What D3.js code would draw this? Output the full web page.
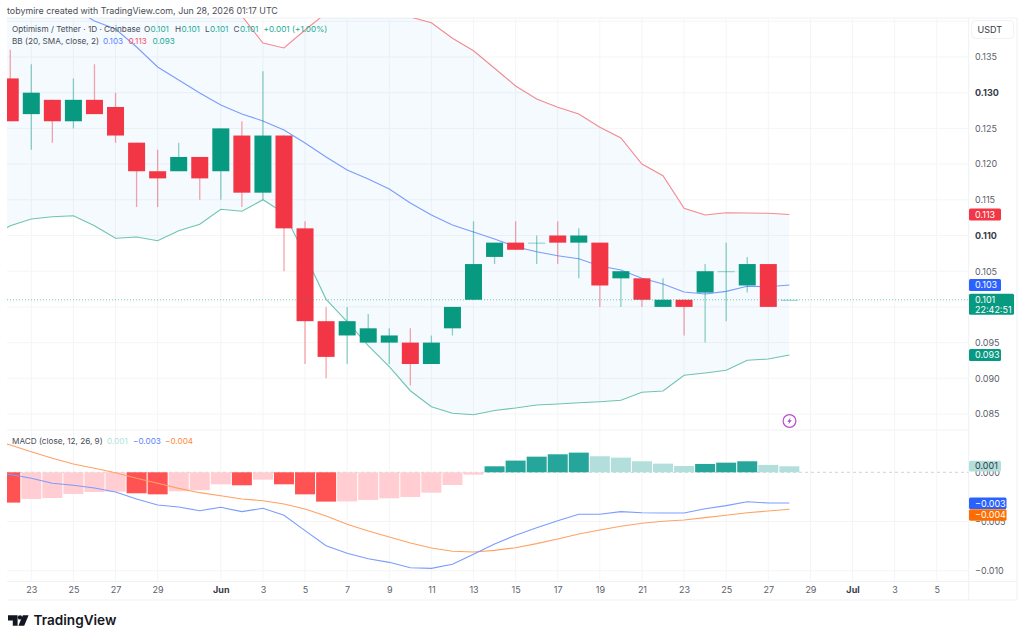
<!DOCTYPE html>
<html>
<head>
<meta charset="utf-8">
<title>Optimism / Tether 1D</title>
<script src="https://cdn.jsdelivr.net/npm/d3@7/dist/d3.min.js"></script>
<style>
  html, body { margin: 0; padding: 0; background: #fff; }
  svg { display: block; }
  text { font-family: Inter, "Liberation Sans", sans-serif; font-size: 9px; }
  text.legend { font-size: 8.2px; }
  text.credit { font-size: 8.9px; }
</style>
</head>
<body>
<svg id="chart" width="1024" height="641"></svg>
<script>
// Daily candles, first entry is May 21 2026
const opens  = [.133,.132,.127,.129,.126,.129,.128,.123,.119,.119,.121,.119,.124,.116,.124,.111,.098,.096,.095,.095,.095,.092,.097,.101,.107,.109,.109,.110,.109,.109,.104,.104,.100,.101,.102,.105,.103,.106,.101];
const highs  = [.137,.136,.134,.129,.132,.134,.130,.123,.122,.123,.121,.125,.126,.133,.124,.112,.100,.100,.099,.097,.097,.096,.100,.112,.109,.112,.110,.112,.111,.109,.105,.104,.104,.101,.106,.109,.107,.106,.101];
const lows   = [.131,.126,.122,.123,.125,.127,.123,.114,.114,.119,.115,.115,.114,.115,.105,.092,.090,.092,.095,.092,.089,.092,.096,.101,.106,.108,.106,.106,.104,.100,.100,.100,.100,.096,.095,.098,.102,.100,.101];
const closes = [.132,.126,.130,.126,.129,.127,.124,.119,.118,.121,.118,.125,.116,.124,.111,.098,.093,.098,.097,.096,.092,.095,.100,.106,.109,.108,.109,.109,.110,.103,.105,.101,.101,.100,.105,.105,.106,.100,.101];

// Bollinger Bands (20, SMA, close, 2)
const bbUpper = [.1592,.1581,.1573,.1560,.1552,.1541,.1533,.1518,.1509,.1497,.1470,.14368,.14074,.13696,.13626,.13878,.14116,.14368,.14438,.14228,.1406,.1398,.13762,.13588,.13342,.13094,.12912,.12796,.12702,.12515,.12366,.12001,.11838,.11381,.11287,.11319,.11315,.11311,.11294];
const bbBasis = [.1462,.14508,.1441,.14298,.14186,.14004,.13892,.1364,.1336,.13178,.12996,.12828,.12702,.12604,.12478,.12296,.12099,.11917,.11791,.11651,.11455,.11287,.11147,.11049,.10951,.10843,.10773,.10717,.10675,.10573,.10517,.10401,.10321,.10209,.10181,.10218,.10289,.10283,.10307];
const bbLower = [.1097,.11137,.11231,.11263,.11277,.11137,.10961,.10979,.10927,.11067,.11157,.11367,.11339,.11501,.11315,.10727,.10106,.09793,.09457,.09162,.08826,.08602,.0851,.0849,.08549,.08584,.08626,.0864,.08658,.08672,.08692,.08804,.08822,.09042,.09074,.09112,.09252,.0927,.09326];

// MACD (close, 12, 26, 9)
const macdLine   = [.00003,-.00022,-.00061,-.00112,-.00132,-.0016,-.0020,-.00271,-.00332,-.00353,-.0039,-.00356,-.004,-.00366,-.00437,-.00593,-.00746,-.00823,-.00878,-.00915,-.0097,-.00976,-.00935,-.00833,-.00729,-.0064,-.00563,-.00492,-.00427,-.00427,-.004,-.00411,-.00414,-.00414,-.0037,-.00339,-.00299,-.00312,-.00312];
const signalLine = [.0033,.00278,.00209,.00142,.00084,.00041,-.00004,-.00061,-.00112,-.00163,-.00207,-.00238,-.00271,-.00289,-.00322,-.00373,-.00444,-.00528,-.00597,-.00658,-.00718,-.00769,-.00803,-.0081,-.00793,-.00766,-.00725,-.00678,-.00627,-.00586,-.00549,-.00518,-.00498,-.00485,-.00461,-.00437,-.00411,-.00393,-.00376];
const histogram  = [-.0029,-.00308,-.00271,-.00261,-.0022,-.0020,-.00196,-.00213,-.00224,-.00193,-.00183,-.00122,-.00132,-.00075,-.00122,-.00224,-.00298,-.00296,-.00281,-.00264,-.00251,-.00207,-.00129,-.00024,.00061,.00119,.00159,.00183,.0020,.00163,.00149,.00112,.00088,.00064,.00085,.00098,.00112,.00075,.00061];

const gridPrices = [.085,.090,.095,.100,.105,.110,.115,.120,.125,.130,.135,.140];
// 0.100 sits under the last-price tag, so the scale does not print it
const priceTicks = [.085,.090,.095,.105,.110,.115,.120,.125,.130,.135];
const boldPrices = [.110,.130];
const macdTicks  = [0,-.005,-.010];
const dateTicks  = ["2026-05-23","2026-05-25","2026-05-27","2026-05-29","2026-06-01","2026-06-03","2026-06-05","2026-06-07","2026-06-09","2026-06-11","2026-06-13","2026-06-15","2026-06-17","2026-06-19","2026-06-21","2026-06-23","2026-06-25","2026-06-27","2026-06-29","2026-07-01","2026-07-03","2026-07-05"];
const monthNames = {"2026-06-01":"Jun","2026-07-01":"Jul"};

const RED = "#f23645", GREEN = "#089981", BLUE = "#2962ff", ORANGE = "#ff6d00";

const dayList = d3.utcDay.range(new Date(Date.UTC(2026,4,21)), new Date(Date.UTC(2026,5,29)));
const iso = d3.utcFormat("%Y-%m-%d");

const L = 7, R = 968.7, PT = 18, PB = 429.5, MT = 431, MB = 581.5, AB = 600;

const x = d3.scaleUtc()
  .domain([new Date(Date.UTC(2026,4,23)), new Date(Date.UTC(2026,5,27))])
  .range([31.3, 768.3]);
const y = d3.scaleLinear().domain([.085,.135]).range([414.0,57.0]);
const ym = d3.scaleLinear().domain([0,-.010]).range([472.3,570.7]);

const svg = d3.select("#chart");
const defs = svg.append("defs");
defs.append("clipPath").attr("id","pricePane").append("rect")
  .attr("x",L).attr("y",PT).attr("width",R-L).attr("height",PB-PT);
defs.append("clipPath").attr("id","macdPane").append("rect")
  .attr("x",L).attr("y",MT).attr("width",R-L).attr("height",MB-MT);

// Frame and separators
const FRAME = "#f0f1f3";
[[L,PT,1017,PT],[L,430,R,430],[L,MB,1017,MB],[L,AB,1017,AB],[R,PT,R,AB],[1017,PT,1017,AB]].forEach(d => {
  svg.append("line").attr("x1",d[0]).attr("y1",d[1]).attr("x2",d[2]).attr("y2",d[3])
    .attr("stroke",FRAME).attr("stroke-width",1);
});

// Grid
const GRID = "#f4f5f7";
const grid = svg.append("g").attr("stroke",GRID).attr("stroke-width",1);
grid.selectAll(".v").data(dateTicks).join("line")
  .attr("x1",d=>x(new Date(d))).attr("x2",d=>x(new Date(d)))
  .attr("y1",PT).attr("y2",MB);
grid.selectAll(".h").data(gridPrices).join("line")
  .attr("x1",L).attr("x2",R).attr("y1",d=>y(d)).attr("y2",d=>y(d));
grid.selectAll(".m").data(macdTicks.slice(1)).join("line")
  .attr("x1",L).attr("x2",R).attr("y1",d=>ym(d)).attr("y2",d=>ym(d));

// Bollinger Bands
const price = svg.append("g").attr("clip-path","url(#pricePane)");
price.append("path").datum(dayList)
  .attr("fill","#2196f3").attr("fill-opacity",.05)
  .attr("d", d3.area().x(d=>x(d))
    .y0((d,i)=>y(bbLower[i])).y1((d,i)=>y(bbUpper[i])));
const bandLine = values => d3.line().x(d=>x(d)).y((d,i)=>y(values[i]))(dayList);
[[bbUpper,"#f4898f"],[bbLower,"#6fc4b0"],[bbBasis,"#7b9cff"]].forEach(([v,c]) => {
  price.append("path").attr("d",bandLine(v)).attr("fill","none").attr("stroke",c).attr("stroke-width",1.1);
});

// Last price line
svg.append("line").attr("x1",L).attr("x2",R).attr("y1",y(closes[closes.length-1])).attr("y2",y(closes[closes.length-1]))
  .attr("stroke",GREEN).attr("stroke-opacity",.55).attr("stroke-dasharray","1 2");

// Candles
const BODY = 17;
const candles = price.selectAll(".candle").data(dayList).join("g");
candles.append("line")
  .attr("x1",d=>x(d)).attr("x2",d=>x(d))
  .attr("y1",(d,i)=>y(highs[i])).attr("y2",(d,i)=>y(lows[i]))
  .attr("stroke",(d,i)=>closes[i]<opens[i]?RED:GREEN)
  .attr("stroke-opacity",.45).attr("stroke-width",1.3);
candles.append("rect")
  .attr("x",d=>x(d)-BODY/2).attr("width",BODY)
  .attr("y",(d,i)=>y(Math.max(opens[i],closes[i])))
  .attr("height",(d,i)=>Math.max(1,Math.abs(y(opens[i])-y(closes[i]))))
  .attr("fill",(d,i)=>closes[i]<opens[i]?RED:GREEN)
  .attr("fill-opacity",(d,i)=>opens[i]===closes[i]?.45:1);

// Alert marker
const bolt = svg.append("g").attr("transform","translate(789.5,421)");
bolt.append("circle").attr("r",6.4).attr("fill","#fff").attr("stroke","#b84fcb").attr("stroke-width",1.2);
bolt.append("path").attr("d","M1.2 -3.6 L-2.4 0.7 H-0.3 L-1.2 3.6 L2.4 -0.7 H0.3 Z").attr("fill","#b84fcb");

// MACD histogram
const macd = svg.append("g").attr("clip-path","url(#macdPane)");
macd.append("line").attr("x1",L).attr("x2",R).attr("y1",ym(0)).attr("y2",ym(0))
  .attr("stroke","#cfd2d6").attr("stroke-dasharray","3 3");
const histColor = (v,i) => {
  const prev = i>0 ? histogram[i-1] : v;
  if (v>=0) return v>=prev ? "#26a69a" : "#b2dfdb";
  return v<=prev ? "#ff5252" : "#ffcdd2";
};
macd.selectAll(".hist").data(dayList).join("rect")
  .attr("x",d=>x(d)-10).attr("width",20)
  .attr("y",(d,i)=>Math.min(ym(0),ym(histogram[i])))
  .attr("height",(d,i)=>Math.abs(ym(histogram[i])-ym(0)))
  .attr("fill",(d,i)=>histColor(histogram[i],i));
const macdPath = values => d3.line().x(d=>x(d)).y((d,i)=>ym(values[i]))(dayList);
macd.append("path").attr("d",macdPath(signalLine)).attr("fill","none").attr("stroke","#ffa263").attr("stroke-width",1.1);
macd.append("path").attr("d",macdPath(macdLine)).attr("fill","none").attr("stroke","#7b9cff").attr("stroke-width",1.1);

// Axes
const TICK = "#5d606b";
const minus = v => d3.format(".3f")(v).replace("-","\u2212");
const styleAxis = g => {
  g.select(".domain").remove();
  g.selectAll(".tick line").remove();
  g.selectAll("text").attr("fill",TICK).style("font-size","9px");
};
svg.append("g").attr("transform",`translate(${R},0)`)
  .call(d3.axisRight(y).tickValues(priceTicks).tickSize(0).tickPadding(6.3).tickFormat(d3.format(".3f")))
  .call(styleAxis)
  .call(g => g.selectAll("text")
    .attr("font-weight",d=>boldPrices.includes(d)?700:400)
    .attr("fill",d=>boldPrices.includes(d)?"#363a45":TICK));
svg.append("g").attr("transform",`translate(${R},0)`)
  .call(d3.axisRight(ym).tickValues(macdTicks).tickSize(0).tickPadding(6.3).tickFormat(minus))
  .call(styleAxis);
svg.append("g").attr("transform",`translate(0,${MB})`)
  .call(d3.axisBottom(x).tickValues(dateTicks.map(d=>new Date(d))).tickSize(0).tickPadding(5)
    .tickFormat(d=>monthNames[iso(d)] || d3.utcFormat("%-d")(d)))
  .call(styleAxis)
  .call(g => g.selectAll("text")
    .attr("font-weight",d=>monthNames[iso(d)]?700:400)
    .attr("fill",d=>monthNames[iso(d)]?"#363a45":TICK));

// Price tags
const tag = (value, scale, fill, textFill, w) => {
  const cy = scale(value);
  svg.append("rect").attr("x",R+.3).attr("y",cy-5.9).attr("width",w).attr("height",11.8).attr("rx",1.5).attr("fill",fill);
  svg.append("text").attr("x",R+6.3).attr("y",cy+3.2).attr("fill",textFill).text(minus(value));
};
const last = bbBasis.length-1;
tag(bbUpper[last], y, RED, "#fff", 32);
tag(bbBasis[last], y, BLUE, "#fff", 32);
tag(bbLower[last], y, GREEN, "#fff", 32);
svg.append("rect").attr("x",R+.3).attr("y",y(closes[last])-5.9).attr("width",45).attr("height",21).attr("rx",1.5).attr("fill",GREEN);
svg.append("text").attr("x",R+6.3).attr("y",y(closes[last])+3.2).attr("fill","#fff").text(d3.format(".3f")(closes[last]));
svg.append("text").attr("x",R+6.3).attr("y",y(closes[last])+12.8).attr("fill","#fff").text("22:42:51");

// MACD tags
svg.append("rect").attr("x",R+.3).attr("y",460.7).attr("width",32).attr("height",10.8).attr("rx",1.5).attr("fill","#b2dfdb");
svg.append("text").attr("x",R+6.3).attr("y",469.3).attr("fill","#363a45").text(minus(histogram[last]));
svg.append("rect").attr("x",R+.3).attr("y",497.5).attr("width",37.5).attr("height",11.6).attr("rx",1.5).attr("fill",BLUE);
svg.append("text").attr("x",R+6.3).attr("y",506.5).attr("fill","#fff").text(minus(macdLine[last]));
svg.append("rect").attr("x",R+.3).attr("y",509.3).attr("width",37.5).attr("height",11.4).attr("rx",1.5).attr("fill",ORANGE);
svg.append("text").attr("x",R+6.3).attr("y",518.2).attr("fill","#fff").text(minus(signalLine[last]));

// Currency box
svg.append("rect").attr("x",971.7).attr("y",20.5).attr("width",42).attr("height",18).attr("rx",4).attr("fill","#fff").attr("stroke","#f0f1f3");
svg.append("text").attr("x",977.5).attr("y",32.6).attr("fill","#363a45").text("USDT");

// Header and legends
const INK = "#4a4d57";
svg.append("text").attr("class","credit").attr("x",7).attr("y",14).attr("fill",INK).text("tobymire created with TradingView.com, Jun 28, 2026 01:17 UTC");

const runs = (yy, items) => items.forEach(([xx,t,c]) =>
  svg.append("text").attr("class","legend").attr("x",xx).attr("y",yy).attr("fill",c).text(t));
const p3 = d3.format(".3f");
const TEAL = "#22ab94";
runs(32, [
  [12,"Optimism / Tether \u00b7 1D \u00b7 Coinbase",INK],
  [144,"O",INK],[150.5,p3(opens[last]),TEAL],
  [175,"H",INK],[181.5,p3(highs[last]),TEAL],
  [205,"L",INK],[210,p3(lows[last]),TEAL],
  [233.5,"C",INK],[240,p3(closes[last]),TEAL],
  [263.5,"+0.001 (+1.00%)",TEAL]
]);
runs(43.5, [
  [12,"BB (20, SMA, close, 2)",INK],
  [103,p3(bbBasis[last]),"#5b83ff"],
  [128.5,p3(bbUpper[last]),"#f7525f"],
  [152.5,p3(bbLower[last]),TEAL]
]);
runs(443.7, [
  [12,"MACD (close, 12, 26, 9)",INK],
  [107,minus(histogram[last]),"#b2dfdb"],
  [133,minus(macdLine[last]),"#5b83ff"],
  [165,minus(signalLine[last]),"#ff8a3c"]
]);

// Brand mark
svg.append("path").attr("fill","#131722")
  .attr("d","M8 615.2H17.6V625.8H12.8V620.4H8Z M28.6 615.2 L24.2 625.8 H18.4 L22.8 615.2Z");
svg.append("circle").attr("cx",20).attr("cy",617.4).attr("r",2.2).attr("fill","#131722");
svg.append("text").attr("x",33.5).attr("y",625.2).attr("fill","#131722")
  .style("font-size","13.6px").attr("font-weight",600).text("TradingView");
</script>
</body>
</html>
